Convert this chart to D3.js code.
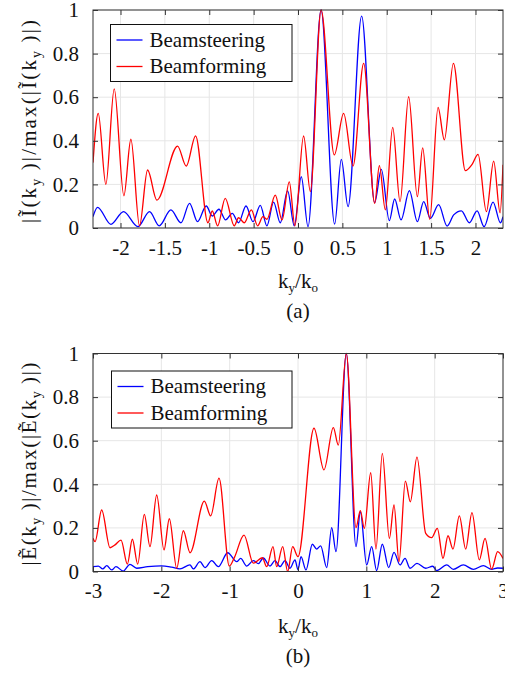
<!DOCTYPE html>
<html>
<head>
<meta charset="utf-8">
<script src="https://cdn.jsdelivr.net/npm/d3@7"></script>
<style>
  html, body { margin: 0; padding: 0; background: #fff; }
  svg { display: block; font-family: "Liberation Serif", "Times New Roman", serif; }
</style>
</head>
<body>
<svg id="fig" width="505" height="677"></svg>
<script>
// ---- Spectra, normalised magnitude vs k_y/k_o: [k_y/k_o, value] at peaks and nulls ----
const steeringA = [
  [-2.31,0.052],[-2.259,0.095],[-2.108,0.017],[-1.966,0.075],[-1.804,0.006],[-1.673,0.075],
  [-1.564,0.01],[-1.432,0.083],[-1.319,0.024],[-1.222,0.113],[-1.132,0.029],[-1.034,0.101],
  [-0.966,0.055],[-0.891,0.086],[-0.816,0.037],[-0.741,0.067],[-0.670,0.024],[-0.586,0.101],
  [-0.507,0.029],[-0.425,0.104],[-0.35,0.01],[-0.275,0.119],[-0.2,0.024],[-0.117,0.170],
  [-0.042,0.01],[0.037,0.235],[0.113,0.006],[0.26,1.0],[0.413,0.018],[0.488,0.315],
  [0.564,0.098],[0.717,0.972],[0.864,0.116],[0.939,0.269],[1.029,0.034],[1.089,0.133],
  [1.161,0.037],[1.255,0.171],[1.345,0.029],[1.416,0.121],[1.492,0.044],[1.585,0.107],
  [1.68,0.009],[1.754,0.06],[1.841,0.079],[1.931,0.024],[2.018,0.079],[2.097,0.006],
  [2.198,0.119],[2.281,0.024],[2.31,0.052]
];
const formingA = [
  [-2.31,0.30],[-2.251,0.526],[-2.165,0.20],[-2.071,0.638],[-1.962,0.148],[-1.883,0.407],
  [-1.786,0.01],[-1.695,0.266],[-1.590,0.128],[-1.357,0.376],[-1.259,0.284],[-1.154,0.423],
  [-1.015,0.024],[-0.966,0.078],[-0.906,0.01],[-0.820,0.136],[-0.718,0.01],[-0.670,0.047],
  [-0.605,0.024],[-0.526,0.083],[-0.455,0.01],[-0.395,0.052],[-0.35,0.04],[-0.256,0.151],
  [-0.18,0.037],[-0.098,0.212],[-0.035,0.01],[0.063,0.422],[0.139,0.167],[0.26,1.0],
  [0.409,0.335],[0.514,0.526],[0.62,0.284],[0.740,0.755],[0.864,0.113],[0.917,0.286],
  [0.984,0.083],[1.067,0.462],[1.15,0.121],[1.247,0.602],[1.345,0.144],[1.405,0.368],
  [1.484,0.04],[1.578,0.553],[1.649,0.404],[1.751,0.755],[1.886,0.263],[1.962,0.292],
  [2.029,0.338],[2.123,0.075],[2.205,0.307],[2.277,0.07],[2.31,0.29]
];
const steeringB = [
  [-3.0,0.022],[-2.922,0.025],[-2.857,0.012],[-2.799,0.027],[-2.726,0.007],[-2.664,0.022],
  [-2.557,0.002],[-2.459,0.033],[-2.361,0.015],[-2.2,0.022],[-2.0,0.026],[-1.85,0.02],
  [-1.727,0.012],[-1.581,0.03],[-1.532,0.012],[-1.434,0.045],[-1.361,0.018],[-1.263,0.05],
  [-1.166,0.022],[-1.029,0.086],[-0.897,0.045],[-0.839,0.06],[-0.751,0.025],[-0.654,0.05],
  [-0.581,0.036],[-0.508,0.062],[-0.41,0.025],[-0.337,0.05],[-0.263,0.022],[-0.19,0.05],
  [-0.117,0.015],[-0.044,0.053],[0.0,0.008],[0.044,0.068],[0.117,0.007],[0.21,0.125],
  [0.273,0.103],[0.332,0.118],[0.42,0.018],[0.493,0.201],[0.556,0.091],[0.707,1.0],
  [0.849,0.114],[0.912,0.274],[1.005,0.03],[1.078,0.114],[1.151,0.004],[1.234,0.125],
  [1.327,0.018],[1.405,0.088],[1.493,0.03],[1.566,0.06],[1.639,0.015],[1.741,0.037],
  [1.869,0.015],[1.971,0.024],[2.03,0.004],[2.176,0.03],[2.273,0.01],[2.419,0.03],
  [2.566,0.01],[2.712,0.027],[2.834,0.01],[2.92,0.016],[3.0,0.015]
];
const formingB = [
  [-3.0,0.152],[-2.97,0.137],[-2.873,0.282],[-2.751,0.109],[-2.678,0.122],[-2.59,0.144],
  [-2.497,0.034],[-2.424,0.148],[-2.346,0.034],[-2.249,0.262],[-2.166,0.114],[-2.068,0.351],
  [-1.961,0.099],[-1.883,0.242],[-1.775,0.015],[-1.678,0.187],[-1.58,0.086],[-1.371,0.323],
  [-1.278,0.255],[-1.156,0.428],[-1.005,0.025],[-0.93,0.065],[-0.79,0.167],[-0.654,0.038],
  [-0.522,0.063],[-0.458,0.022],[-0.366,0.114],[-0.312,0.022],[-0.224,0.114],[-0.151,0.0],
  [-0.078,0.114],[0.0,0.068],[0.234,0.657],[0.38,0.466],[0.517,0.66],[0.59,0.58],
  [0.707,1.0],[0.849,0.201],[0.912,0.279],[0.971,0.198],[1.064,0.453],[1.141,0.103],
  [1.234,0.542],[1.337,0.152],[1.405,0.305],[1.478,0.045],[1.571,0.415],[1.644,0.32],
  [1.741,0.525],[1.869,0.175],[1.956,0.155],[2.039,0.198],[2.122,0.06],[2.195,0.164],
  [2.268,0.103],[2.361,0.255],[2.454,0.103],[2.546,0.27],[2.653,0.053],[2.737,0.152],
  [2.834,0.011],[2.922,0.091],[3.0,0.06]
];

// ---- Axis ticks and labels ----
const xTicksA = [-2, -1.5, -1, -0.5, 0, 0.5, 1, 1.5, 2];
const xTickLabelsA = ["-2", "-1.5", "-1", "-0.5", "0", "0.5", "1", "1.5", "2"];
const xTicksB = [-3, -2, -1, 0, 1, 2, 3];
const xTickLabelsB = ["-3", "-2", "-1", "0", "1", "2", "3"];
const yTicks = [0, 0.2, 0.4, 0.6, 0.8, 1];
const yTickLabels = ["0", "0.2", "0.4", "0.6", "0.8", "1"];
const seriesNames = ["Beamsteering", "Beamforming"];
const seriesColors = ["#0000ff", "#ff0000"];

const svg = d3.select("#fig");
const axisColor = "#333333";
const gridColor = "#e6e6e6";
const fontSize = 21;

function drawPanel(p) {
  const x = d3.scaleLinear().domain(p.xDomain).range([p.left, p.right]);
  const y = d3.scaleLinear().domain([0, 1]).range([p.bottom, p.top]);
  const g = svg.append("g");

  // grid
  g.append("g").selectAll("line").data(p.xTicks).join("line")
    .attr("x1", d => x(d)).attr("x2", d => x(d))
    .attr("y1", p.top).attr("y2", p.bottom)
    .attr("stroke", gridColor).attr("stroke-width", 1);
  g.append("g").selectAll("line").data(yTicks).join("line")
    .attr("y1", d => y(d)).attr("y2", d => y(d))
    .attr("x1", p.left).attr("x2", p.right)
    .attr("stroke", gridColor).attr("stroke-width", 1);

  // curves
  const clipId = "clip-" + p.id;
  svg.append("clipPath").attr("id", clipId).append("rect")
    .attr("x", p.left).attr("y", p.top - 2)
    .attr("width", p.right - p.left).attr("height", p.bottom - p.top + 2);
  const line = d3.line().x(d => x(d[0])).y(d => y(d[1])).curve(d3.curveMonotoneX);
  const curves = g.append("g").attr("clip-path", `url(#${clipId})`);
  p.series.forEach((s, i) => {
    curves.append("path").datum(s)
      .attr("d", line).attr("fill", "none")
      .attr("stroke", seriesColors[i]).attr("stroke-width", 1.3)
      .attr("stroke-linejoin", "round");
  });

  // axes: ticks pointing inward on all four sides
  const styleAxis = sel => {
    sel.select(".domain").remove();
    sel.selectAll(".tick line").attr("stroke", axisColor);
    sel.selectAll(".tick text").attr("fill", "#111")
      .attr("font-size", fontSize)
      .attr("font-family", '"Liberation Serif", "Times New Roman", serif');
  };
  g.append("g").attr("transform", `translate(0,${p.bottom})`)
    .call(d3.axisBottom(x).tickValues(p.xTicks).tickFormat((d, i) => p.xTickLabels[i])
      .tickSizeInner(-5).tickSizeOuter(0).tickPadding(12))
    .call(styleAxis);
  g.append("g").attr("transform", `translate(0,${p.top})`)
    .call(d3.axisTop(x).tickValues(p.xTicks).tickFormat("").tickSizeInner(-5).tickSizeOuter(0))
    .call(styleAxis);
  g.append("g").attr("transform", `translate(${p.left},0)`)
    .call(d3.axisLeft(y).tickValues(yTicks).tickFormat((d, i) => yTickLabels[i])
      .tickSizeInner(-5).tickSizeOuter(0).tickPadding(14))
    .call(styleAxis);
  g.append("g").attr("transform", `translate(${p.right},0)`)
    .call(d3.axisRight(y).tickValues(yTicks).tickFormat("").tickSizeInner(-5).tickSizeOuter(0))
    .call(styleAxis);

  // frame
  g.append("rect")
    .attr("x", p.left).attr("y", p.top)
    .attr("width", p.right - p.left).attr("height", p.bottom - p.top)
    .attr("fill", "none").attr("stroke", axisColor).attr("stroke-width", 1);

  // legend
  const lg = g.append("g");
  lg.append("rect")
    .attr("x", p.legend.x).attr("y", p.legend.y)
    .attr("width", p.legend.w).attr("height", p.legend.h)
    .attr("fill", "#fff").attr("stroke", "#111").attr("stroke-width", 1);
  seriesNames.forEach((name, i) => {
    const ry = p.legend.y + 15.5 + i * 26.5;
    lg.append("line")
      .attr("x1", p.legend.x + 6).attr("x2", p.legend.x + 32)
      .attr("y1", ry).attr("y2", ry)
      .attr("stroke", seriesColors[i]).attr("stroke-width", 1.3);
    lg.append("text")
      .attr("x", p.legend.x + 39).attr("y", ry).attr("dy", "0.33em")
      .attr("font-size", fontSize).attr("fill", "#111").text(name);
  });

  // y label: |X(k_y)|/max(|X(k_y)|)
  const yl = g.append("text")
    .attr("transform", `translate(${p.yLabelX},${p.yLabelY}) rotate(-90)`)
    .attr("text-anchor", "middle").attr("font-size", fontSize).attr("fill", "#111")
    .attr("textLength", p.yLabelLen).attr("lengthAdjust", "spacing");
  yl.append("tspan").text(`|${p.sym}(k`);
  yl.append("tspan").attr("font-size", 14).attr("dy", 5).text("y");
  yl.append("tspan").attr("dy", -5).text(`\u2009)|/max(|${p.sym}(k`);
  yl.append("tspan").attr("font-size", 14).attr("dy", 5).text("y");
  yl.append("tspan").attr("dy", -5).text("\u2009)|)");

  // x label: k_y/k_o
  const xl = g.append("text")
    .attr("x", (p.left + p.right) / 2).attr("y", p.xLabelY)
    .attr("text-anchor", "middle").attr("font-size", fontSize).attr("fill", "#111");
  xl.append("tspan").text("k");
  xl.append("tspan").attr("font-size", 13).attr("dy", 4).text("y");
  xl.append("tspan").attr("dy", -4).text("/k");
  xl.append("tspan").attr("font-size", 13).attr("dy", 4).text("o");

  // caption
  g.append("text")
    .attr("x", (p.left + p.right) / 2).attr("y", p.captionY)
    .attr("text-anchor", "middle").attr("font-size", fontSize).attr("fill", "#111")
    .text(p.caption);
}

drawPanel({
  id: "a", xDomain: [-2.31, 2.31], xTicks: xTicksA, xTickLabels: xTickLabelsA,
  left: 93, right: 503, top: 10, bottom: 228,
  series: [steeringA, formingA],
  legend: { x: 110.5, y: 24.5, w: 181.5, h: 57 },
  sym: "\u0128", yLabelX: 36, yLabelY: 121.5, yLabelLen: 203,
  xLabelY: 288, captionY: 318, caption: "(a)"
});
drawPanel({
  id: "b", xDomain: [-3, 3], xTicks: xTicksB, xTickLabels: xTickLabelsB,
  left: 93, right: 503, top: 353.5, bottom: 571.5,
  series: [steeringB, formingB],
  legend: { x: 111.5, y: 371, w: 180.5, h: 57 },
  sym: "\u1EBC", yLabelX: 36, yLabelY: 464, yLabelLen: 203,
  xLabelY: 633, captionY: 663, caption: "(b)"
});
</script>
</body>
</html>
